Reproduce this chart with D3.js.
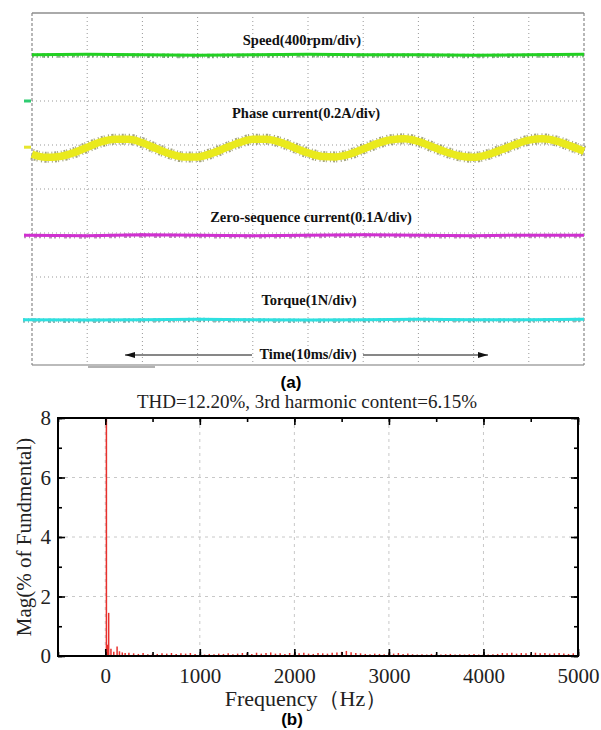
<html>
<head>
<meta charset="utf-8">
<script src="https://cdn.jsdelivr.net/npm/d3@7"></script>
<style>
body {margin:0; background:#fff;}
svg {display:block;}
</style>
</head>
<body>
<svg width="601" height="730"></svg>
<script>

// ---- (a) oscilloscope traces, time in ms, level in divisions ----
var traceT = [0,10,20,30,40,50,60,70,80,90,100]
var speedLvl = [3.05,3.06,3.05,3.04,3.05,3.06,3.05,3.05,3.04,3.05,3.06]
var zeroLvl = [-1.05,-1.06,-1.04,-1.05,-1.06,-1.05,-1.04,-1.05,-1.06,-1.05,-1.05]
var torqueLvl = [-2.97,-2.98,-2.97,-2.96,-2.97,-2.98,-2.97,-2.96,-2.97,-2.97,-2.96]

var phaseT = [0,2.5,5,7.5,10,12.5,15,17.5,20,22.5,25,27.5,30,32.5,35,37.5,40,42.5,45,47.5,50,
              52.5,55,57.5,60,62.5,65,67.5,70,72.5,75,77.5,80,82.5,85,87.5,90,92.5,95,97.5,100]
var phaseLvl = [0.79,0.72,0.74,0.82,0.95,1.07,1.13,1.13,1.05,0.92,0.80,0.73,0.73,0.81,0.93,1.05,1.13,1.13,1.06,0.94,0.82,
                0.74,0.73,0.79,0.91,1.03,1.12,1.14,1.08,0.96,0.84,0.75,0.72,0.78,0.89,1.01,1.11,1.14,1.09,0.98,0.86]

// ---- (b) harmonic spectrum ----
var specFreq = [12,24,36,60,90,125,150,180,210,250,300,350,400,450,500,550,600,650,700,750,800,850,900,950,
                1000,1050,1100,1150,1200,1250,1300,1350,1400,1450,1500,1550,1600,1650,1700,1750,1800,1850,1900,1950,
                2000,2050,2100,2150,2200,2250,2300,2350,2400,2450,2500,2550,2600,2650,2700,2750,2800,2850,2900,2950,
                3000,3050,3100,3150,3200,3250,3300,3350,3400,3450,3500,3550,3600,3650,3700,3750,3800,3850,3900,3950,
                4000,4050,4100,4150,4200,4250,4300,4350,4400,4450,4500,4550,4600,4650,4700,4750,4800,4850,4900,4950]
var specMag = [100,0.38,1.45,0.24,0.14,0.32,0.16,0.12,0.10,0.11,0.09,0.07,0.10,0.06,0.08,0.07,0.09,0.08,0.10,0.07,0.09,0.08,0.10,0.07,
               0.06,0.05,0.07,0.06,0.08,0.07,0.09,0.06,0.08,0.10,0.09,0.07,0.11,0.08,0.10,0.12,0.08,0.09,0.07,0.10,
               0.08,0.09,0.11,0.08,0.07,0.10,0.09,0.08,0.11,0.12,0.14,0.17,0.13,0.10,0.09,0.07,0.06,0.08,0.07,0.06,
               0.09,0.08,0.10,0.07,0.08,0.06,0.05,0.06,0.05,0.07,0.06,0.05,0.06,0.07,0.05,0.06,0.05,0.06,0.07,0.05,
               0.06,0.05,0.06,0.07,0.10,0.09,0.11,0.08,0.10,0.09,0.08,0.11,0.09,0.10,0.08,0.09,0.10,0.08,0.07,0.09]

var yTicks = [0,2,4,6,8]
var xTicks = [0,1000,2000,3000,4000,5000]

var SERIF = '"Liberation Serif", "Times New Roman", "DejaVu Serif", serif'
var SANS = '"Liberation Sans", Arial, sans-serif'

var svg = d3.select("svg")

// ================= (a) scope =================
var xs = d3.scaleLinear().domain([0,100]).range([32,584])
var ys = d3.scaleLinear().domain([-4,4]).range([365,13])

var grid = svg.append("g")
grid.selectAll("line.v").data(d3.range(10,100,10)).enter().append("line")
  .attr("x1",d=>xs(d)).attr("x2",d=>xs(d)).attr("y1",ys(4)).attr("y2",ys(-4))
  .attr("stroke","#999").attr("stroke-width",1).attr("stroke-dasharray","1,3")
grid.selectAll("line.h").data(d3.range(-3,4,1)).enter().append("line")
  .attr("x1",xs(0)).attr("x2",xs(100)).attr("y1",d=>ys(d)).attr("y2",d=>ys(d))
  .attr("stroke","#999").attr("stroke-width",1).attr("stroke-dasharray","1,3")

// frame
svg.append("line").attr("x1",xs(0)).attr("x2",xs(100)).attr("y1",ys(4)).attr("y2",ys(4))
  .attr("stroke","#aaa").attr("stroke-width",2)
svg.append("line").attr("x1",xs(0)).attr("x2",xs(100)).attr("y1",ys(-4)).attr("y2",ys(-4))
  .attr("stroke","#bbb").attr("stroke-width",2)
svg.append("line").attr("x1",88).attr("x2",155).attr("y1",ys(-4)+2).attr("y2",ys(-4)+2)
  .attr("stroke","#999").attr("stroke-width",1.5)
;[0,100].forEach(function(t){
  svg.append("line").attr("x1",xs(t)).attr("x2",xs(t)).attr("y1",ys(4)).attr("y2",ys(-4))
    .attr("stroke","#888").attr("stroke-width",1.2).attr("stroke-dasharray","3,2")
})

// left channel markers
svg.append("line").attr("x1",24).attr("x2",31).attr("y1",ys(2)).attr("y2",ys(2))
  .attr("stroke","#2ecc71").attr("stroke-width",3)
svg.append("line").attr("x1",24).attr("x2",31).attr("y1",ys(0.95)).attr("y2",ys(0.95))
  .attr("stroke","#e6e62e").attr("stroke-width",3)

function drawFlat(vals, dark, bright, x0) {
  var g = svg.append("g")
  var line = d3.line().x((d,i)=>i==0 ? x0 : xs(traceT[i])).y(d=>ys(d))
  g.append("path").attr("d",line(vals)).attr("fill","none")
    .attr("stroke",dark).attr("stroke-width",4.5).attr("opacity",0.5)
    .attr("stroke-dasharray","2,3,1,4,3,2").attr("transform","translate(0,0.8)")
  g.append("path").attr("d",line(vals)).attr("fill","none")
    .attr("stroke",bright).attr("stroke-width",3)
}
drawFlat(speedLvl, "#1a6b1a", "#22d022", xs(0))
drawFlat(zeroLvl, "#7a1f7a", "#d030d0", 24)
drawFlat(torqueLvl, "#1f6f6f", "#2ee0e0", 23)

// phase current
var phaseLine = d3.line().x((d,i)=>xs(phaseT[i])).y(d=>ys(d)).curve(d3.curveMonotoneX)
svg.append("path").attr("d",phaseLine(phaseLvl)).attr("fill","none")
  .attr("stroke","#5c5c1a").attr("stroke-width",11).attr("opacity",0.55)
  .attr("stroke-dasharray","1,2,2,1,1,3")
svg.append("path").attr("d",phaseLine(phaseLvl)).attr("fill","none")
  .attr("stroke","#eaea1c").attr("stroke-width",7.5)

// labels
var labels = [
  {t:"Speed(400rpm/div)", x:302, y:45},
  {t:"Phase current(0.2A/div)", x:306, y:118},
  {t:"Zero-sequence current(0.1A/div)", x:311, y:222},
  {t:"Torque(1N/div)", x:309, y:305},
  {t:"Time(10ms/div)", x:308, y:359}
]
svg.selectAll("text.lab").data(labels).enter().append("text")
  .attr("x",d=>d.x).attr("y",d=>d.y).attr("text-anchor","middle")
  .style("font-family",SERIF).style("font-weight","bold").style("font-size","14.5px").attr("fill","#111")
  .text(d=>d.t)

// time arrows
svg.append("defs").append("marker").attr("id","ah").attr("viewBox","0 0 10 6")
  .attr("refX",10).attr("refY",3).attr("markerWidth",10).attr("markerHeight",6)
  .attr("markerUnits","userSpaceOnUse").attr("orient","auto")
  .append("path").attr("d","M0,0L10,3L0,6Z").attr("fill","#111")
svg.append("line").attr("x1",252).attr("x2",125).attr("y1",355).attr("y2",355)
  .attr("stroke","#111").attr("stroke-width",1.2).attr("marker-end","url(#ah)")
svg.append("line").attr("x1",363).attr("x2",488).attr("y1",355).attr("y2",355)
  .attr("stroke","#111").attr("stroke-width",1.2).attr("marker-end","url(#ah)")

svg.append("text").attr("x",291).attr("y",388).attr("text-anchor","middle")
  .style("font-family",SANS).style("font-weight","bold").style("font-size","17px").text("(a)")

// ================= (b) spectrum =================
var x = d3.scaleLinear().domain([-500,5000]).range([58,578])
var y = d3.scaleLinear().domain([0,8]).range([656,418])

svg.append("text").attr("x",307).attr("y",408).attr("text-anchor","middle")
  .style("font-family",SERIF).style("font-size","19px").attr("fill","#222")
  .text("THD=12.20%, 3rd harmonic content=6.15%")

var gb = svg.append("g")
gb.selectAll("line.gx").data([0,1000,2000,3000,4000]).enter().append("line")
  .attr("x1",d=>x(d)).attr("x2",d=>x(d)).attr("y1",y(8)).attr("y2",y(0))
  .attr("stroke","#c8c8c8").attr("stroke-dasharray","3,4")
gb.selectAll("line.gy").data([2,4,6]).enter().append("line")
  .attr("x1",x(-500)).attr("x2",x(5000)).attr("y1",d=>y(d)).attr("y2",d=>y(d))
  .attr("stroke","#c8c8c8").attr("stroke-dasharray","3,4")

svg.append("clipPath").attr("id","pc").append("rect")
  .attr("x",x(-500)).attr("y",y(8)).attr("width",x(5000)-x(-500)).attr("height",y(0)-y(8))
gb.append("g").attr("clip-path","url(#pc)").selectAll("line.s").data(specMag).enter().append("line")
  .attr("x1",(d,i)=>x(specFreq[i])).attr("x2",(d,i)=>x(specFreq[i]))
  .attr("y1",y(0)).attr("y2",d=>y(d))
  .attr("stroke","#e8302c").attr("stroke-width",1.5)

// axes (inward ticks, all four sides)
var minorX = d3.range(-500,5001,500), minorY = d3.range(0,9,1)
gb.append("g").attr("transform","translate(0,"+y(0)+")")
  .call(d3.axisBottom(x).tickValues(minorX).tickSize(-4).tickFormat(""))
gb.append("g").attr("transform","translate(0,"+y(8)+")")
  .call(d3.axisTop(x).tickValues(minorX).tickSize(-4).tickFormat(""))
gb.append("g").attr("transform","translate("+x(-500)+",0)")
  .call(d3.axisLeft(y).tickValues(minorY).tickSize(-4).tickFormat(""))
gb.append("g").attr("transform","translate("+x(5000)+",0)")
  .call(d3.axisRight(y).tickValues(minorY).tickSize(-4).tickFormat(""))
gb.append("g").attr("transform","translate(0,"+y(0)+")")
  .call(d3.axisBottom(x).tickValues(xTicks).tickSize(-7).tickPadding(12).tickFormat(d3.format("d")))
gb.append("g").attr("transform","translate(0,"+y(8)+")")
  .call(d3.axisTop(x).tickValues(xTicks).tickSize(-7).tickFormat(""))
gb.append("g").attr("transform","translate("+x(-500)+",0)")
  .call(d3.axisLeft(y).tickValues(yTicks).tickSize(-7).tickPadding(7).tickFormat(d3.format("d")))
gb.append("g").attr("transform","translate("+x(5000)+",0)")
  .call(d3.axisRight(y).tickValues(yTicks).tickSize(-7).tickFormat(""))
gb.selectAll(".domain").remove()
gb.selectAll(".tick line").attr("stroke","#000").attr("stroke-width",1.6)
gb.selectAll(".tick text").style("font-family",SERIF).style("font-size","21px").attr("fill","#222")

gb.append("rect").attr("x",x(-500)).attr("y",y(8)).attr("width",x(5000)-x(-500)).attr("height",y(0)-y(8))
  .attr("fill","none").attr("stroke","#000").attr("stroke-width",2)

svg.append("text").attr("transform","translate(31,537) rotate(-90)")
  .attr("text-anchor","middle").style("font-family",SERIF).style("font-size","21px").attr("fill","#222")
  .text("Mag(% of Fundmental)")
svg.append("text").attr("x",306).attr("y",706).attr("text-anchor","middle")
  .style("font-family",SERIF).style("font-size","22px").attr("fill","#222")
  .text("Frequency（Hz）")

svg.append("text").attr("x",292).attr("y",725).attr("text-anchor","middle")
  .style("font-family",SANS).style("font-weight","bold").style("font-size","17px").text("(b)")

</script>
</body>
</html>
